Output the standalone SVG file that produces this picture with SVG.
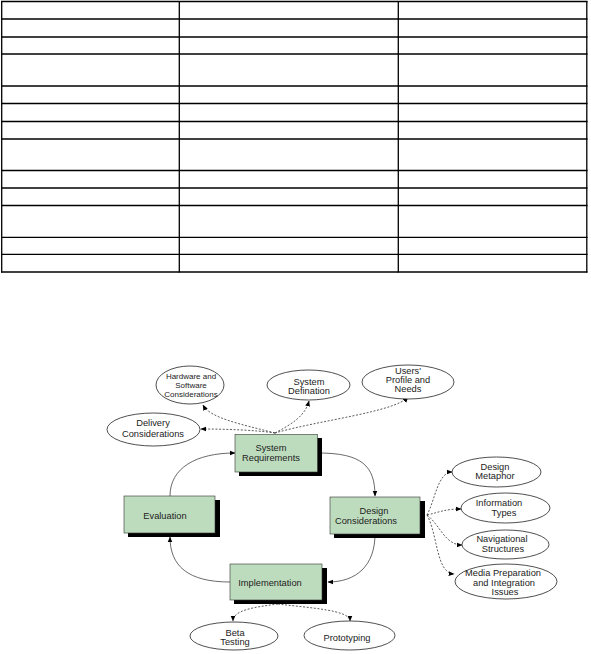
<svg xmlns="http://www.w3.org/2000/svg" width="591" height="654" viewBox="0 0 591 654">
<style>
.tbl line{stroke:#000;stroke-width:1.3}
.box{fill:#bddcbd;stroke:#333;stroke-width:0.6}
.shadow{fill:#000}
.ell{fill:#fff;stroke:#222;stroke-width:0.8}
text{font-family:"Liberation Sans",Arial,sans-serif;font-size:9.3px;fill:#222;text-anchor:middle}
.sm{font-size:8px}
.flow{fill:none;stroke:#444;stroke-width:0.8}
.dot{fill:none;stroke:#333;stroke-width:0.8;stroke-dasharray:2,1.6}
</style>
<defs>
<marker id="ah" viewBox="0 0 10 10" refX="9" refY="5" markerWidth="6" markerHeight="6" markerUnits="userSpaceOnUse" orient="auto">
<path d="M0,1 L10,5 L0,9 Z" fill="#000"/>
</marker>
</defs>
<rect width="591" height="654" fill="#fff"/>
<g id="table" class="tbl">
<line x1="1" y1="1.5" x2="587.5" y2="1.5"/>
<line x1="1" y1="19" x2="587.5" y2="19"/>
<line x1="1" y1="37" x2="587.5" y2="37"/>
<line x1="1" y1="54" x2="587.5" y2="54"/>
<line x1="1" y1="86" x2="587.5" y2="86"/>
<line x1="1" y1="103.5" x2="587.5" y2="103.5"/>
<line x1="1" y1="121.5" x2="587.5" y2="121.5"/>
<line x1="1" y1="139" x2="587.5" y2="139"/>
<line x1="1" y1="170.5" x2="587.5" y2="170.5"/>
<line x1="1" y1="188" x2="587.5" y2="188"/>
<line x1="1" y1="205.5" x2="587.5" y2="205.5"/>
<line x1="1" y1="237.3" x2="587.5" y2="237.3"/>
<line x1="1" y1="254.3" x2="587.5" y2="254.3"/>
<line x1="1" y1="272" x2="587.5" y2="272"/>
<line x1="1.7" y1="1" x2="1.7" y2="272.6"/>
<line x1="179.3" y1="1" x2="179.3" y2="272.6"/>
<line x1="398.3" y1="1" x2="398.3" y2="272.6"/>
<line x1="586.8" y1="1" x2="586.8" y2="272.6"/>
</g>
<g id="connectors">
<path class="flow" d="M318,453 C362,453 375,466 375,496" marker-end="url(#ah)"/>
<path class="flow" d="M375,534 C375,566 356,582 328,582" marker-end="url(#ah)"/>
<path class="flow" d="M230,582 C188,582 170,566 170,537" marker-end="url(#ah)"/>
<path class="flow" d="M170,496 C170,468 196,453 235,453" marker-end="url(#ah)"/>
<path class="dot" d="M275,433 C240,424 210,418 203,405" marker-end="url(#ah)"/>
<path class="dot" d="M275,433 C292,424 305,416 309,401" marker-end="url(#ah)"/>
<path class="dot" d="M275,433 C320,420 395,412 408,397" marker-end="url(#ah)"/>
<path class="dot" d="M275,433 C255,430 225,429 201,429" marker-end="url(#ah)"/>
<path class="dot" d="M427,515 C435,500 438,472 452,472" marker-end="url(#ah)"/>
<path class="dot" d="M427,515 C440,512 445,509 461,509" marker-end="url(#ah)"/>
<path class="dot" d="M427,515 C440,525 445,545 462,545" marker-end="url(#ah)"/>
<path class="dot" d="M427,515 C438,535 436,573 454,574" marker-end="url(#ah)"/>
<path class="dot" d="M278,604 C255,607 233,610 233,621" marker-end="url(#ah)"/>
<path class="dot" d="M278,604 C310,608 350,610 350,621" marker-end="url(#ah)"/>
</g>
<g id="system-requirements">
<rect class="shadow" x="239" y="438" width="83" height="38"/>
<rect class="box" x="235" y="434.5" width="82.5" height="37.5"/>
<text x="271" y="451">System</text>
<text x="271" y="460.5">Requirements</text>
</g>
<g id="evaluation">
<rect class="shadow" x="128" y="500" width="92" height="37"/>
<rect class="box" x="124" y="496" width="91" height="37"/>
<text x="165" y="518.5">Evaluation</text>
</g>
<g id="design-considerations">
<rect class="shadow" x="334" y="501" width="91" height="37"/>
<rect class="box" x="330" y="497" width="90" height="37"/>
<text x="374" y="514">Design</text>
<text x="366" y="524">Considerations</text>
</g>
<g id="implementation">
<rect class="shadow" x="234" y="568" width="93" height="36"/>
<rect class="box" x="230" y="564" width="92" height="36"/>
<text x="270" y="586">Implementation</text>
</g>
<g id="hardware-software">
<ellipse class="ell" cx="190" cy="385" rx="34" ry="19"/>
<text class="sm" x="191" y="379">Hardware and</text>
<text class="sm" x="191" y="388">Software</text>
<text class="sm" x="191" y="397">Considerations</text>
</g>
<g id="system-defination">
<ellipse class="ell" cx="308.5" cy="385" rx="41.5" ry="15"/>
<text x="309" y="385">System</text>
<text x="309" y="394">Defination</text>
</g>
<g id="users-profile">
<ellipse class="ell" cx="408" cy="382" rx="46" ry="17"/>
<text x="408" y="373.5">Users'</text>
<text x="408" y="383">Profile and</text>
<text x="408" y="392">Needs</text>
</g>
<g id="delivery">
<ellipse class="ell" cx="153.5" cy="429.5" rx="46.5" ry="16.5"/>
<text x="153" y="426">Delivery</text>
<text x="153" y="437">Considerations</text>
</g>
<g id="design-metaphor">
<ellipse class="ell" cx="496.5" cy="472" rx="44.5" ry="15"/>
<text x="495" y="470">Design</text>
<text x="495" y="479">Metaphor</text>
</g>
<g id="information-types">
<ellipse class="ell" cx="505.5" cy="508" rx="44.5" ry="15"/>
<text x="499" y="506">Information</text>
<text x="504" y="516">Types</text>
</g>
<g id="navigational-structures">
<ellipse class="ell" cx="505.5" cy="544.5" rx="43.5" ry="14.5"/>
<text x="502" y="542">Navigational</text>
<text x="503" y="552">Structures</text>
</g>
<g id="media-preparation">
<ellipse class="ell" cx="506" cy="581.5" rx="51" ry="17.5"/>
<text x="503" y="576">Media Preparation</text>
<text x="504" y="586">and Integration</text>
<text x="505" y="595">Issues</text>
</g>
<g id="beta-testing">
<ellipse class="ell" cx="234" cy="636" rx="44" ry="14"/>
<text x="235" y="636">Beta</text>
<text x="235" y="645">Testing</text>
</g>
<g id="prototyping">
<ellipse class="ell" cx="349.5" cy="635.5" rx="45.5" ry="14.5"/>
<text x="347" y="641">Prototyping</text>
</g>
</svg>
